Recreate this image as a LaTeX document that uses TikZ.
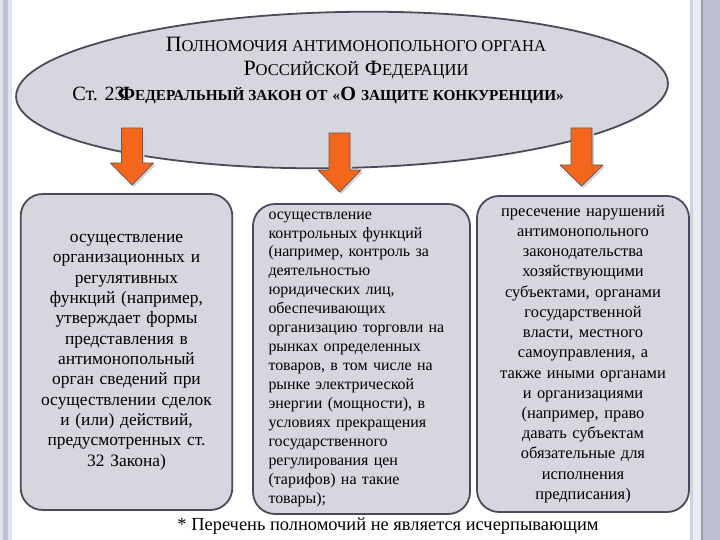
\documentclass[tikz,border=0pt]{standalone}
\usepackage{fontspec}
\setmainfont{Liberation Serif}
\definecolor{panel}{HTML}{D6D6DF}
\definecolor{rim}{HTML}{4A4A5C}
\definecolor{arroworange}{HTML}{F4661B}
\definecolor{arrowrim}{HTML}{6A5A55}
\definecolor{stripe}{HTML}{BCC0D2}
\newcommand\smcap[1]{{\fontsize{16.6}{17}\selectfont #1}}
\newcommand\smcapb[1]{{\fontsize{15.3}{16}\selectfont #1}}
\begin{document}
\begin{tikzpicture}[x=1bp,y=-1bp,line join=round,
	panel/.style={draw=rim,line width=1.8bp,fill=panel,rounded corners=22bp},
	blockarrow/.style={fill=arroworange,draw=arrowrim,line width=0.8bp}]
	\useasboundingbox (0,0) rectangle (720,540);
	%Фон и полосы по краям
	\fill[white] (0,0) rectangle (720,540);
	\fill[stripe!45] (0,0) rectangle (12,540);
	\fill[stripe] (3,0) rectangle (8,540);
	\fill[stripe!70] (690,0) rectangle (720,540);
	\fill[stripe!30] (693,0) rectangle (701,540);
	\fill[rim!55] (701,0) rectangle (703,540);
	\fill[stripe] (703,0) rectangle (720,540);
	%Эллипс с заголовком
	\draw[panel,rounded corners=0pt,rotate around={1.2:(342,90)}] (342,90) ellipse [x radius=326bp, y radius=78bp];
	\node[anchor=base,font=\fontsize{22}{24}\selectfont] (t1) at (356,52) {П\smcap{ОЛНОМОЧИЯ АНТИМОНОПОЛЬНОГО ОРГАНА}};
	\node[anchor=base,font=\fontsize{22}{24}\selectfont] (t2) at (356,76) {Р\smcap{ОССИЙСКОЙ} Ф\smcap{ЕДЕРАЦИИ}};
	\node[anchor=base,font=\fontsize{20.3}{22}\selectfont] (t3) at (318,101) {Ст. 23\kern-7bp\textbf{Ф\smcapb{ЕДЕРАЛЬНЫЙ ЗАКОН ОТ} \smcapb{«}О \smcapb{ЗАЩИТЕ КОНКУРЕНЦИИ»}}};
	%Три блока
	\node[panel,minimum width=211bp,minimum height=316bp,text width=205bp,align=center,
		font=\fontsize{17.5}{20.4}\selectfont] (org) at (126.5,352)
	{осуществление\\ организационных и\\ регулятивных\\ функций (например,\\ утверждает формы\\ представления в\\ антимонопольный\\ орган сведений при\\ осуществлении сделок\\ и (или) действий,\\ предусмотренных ст.\\ 32 Закона)};
	\node[panel,minimum width=217bp,minimum height=310bp,inner sep=1bp,text width=186bp,align=left,
		font=\fontsize{16}{19}\selectfont] (ctrl) at (361.5,359)
	{осуществление\\ контрольных функций\\ (например, контроль за\\ деятельностью\\ юридических лиц,\\ обеспечивающих\\ организацию торговли на\\ рынках определенных\\ товаров, в том числе на\\ рынке электрической\\ энергии (мощности), в\\ условиях прекращения\\ государственного\\ регулирования цен\\ (тарифов) на такие\\ товары);};
	\node[panel,minimum width=212bp,minimum height=316bp,text width=204bp,align=center,
		font=\fontsize{16.5}{20.3}\selectfont] (stop) at (583,354)
	{пресечение нарушений\\ антимонопольного\\ законодательства\\ хозяйствующими\\ субъектами, органами\\ государственной\\ власти, местного\\ самоуправления, а\\ также иными органами\\ и организациями\\ (например, право\\ давать субъектам\\ обязательные для\\ исполнения\\ предписания)};
	%Стрелки
	\foreach \cx/\ya/\yb/\yc in {132/128/163/185,339.5/133/170/192,581.5/128/165/186}{
		\fill[black!18,xshift=2bp,yshift=-2bp] ({\cx-10.5},\ya) -- ({\cx+10.5},\ya) -- ({\cx+10.5},\yb) -- ({\cx+21.5},\yb) -- (\cx,\yc) -- ({\cx-21.5},\yb) -- ({\cx-10.5},\yb) -- cycle;
		\draw[blockarrow] ({\cx-10.5},\ya) -- ({\cx+10.5},\ya) -- ({\cx+10.5},\yb) -- ({\cx+21.5},\yb) -- (\cx,\yc) -- ({\cx-21.5},\yb) -- ({\cx-10.5},\yb) -- cycle;
	}
	\node[font=\fontsize{18.5}{20}\selectfont] (note) at (388,526) {* Перечень полномочий не является исчерпывающим};
\end{tikzpicture}
\end{document}
